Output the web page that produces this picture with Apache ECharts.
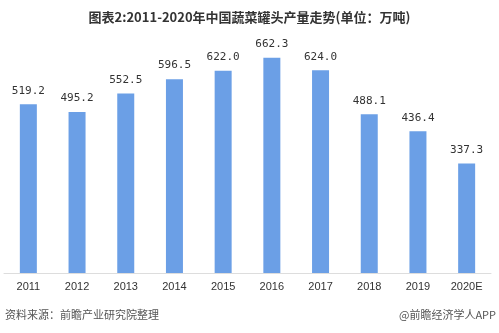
<!DOCTYPE html>
<html><head><meta charset="utf-8">
<script src="https://cdn.jsdelivr.net/npm/echarts@6/dist/echarts.min.js"></script>
<style>html,body{margin:0;padding:0;background:#fff}#c{width:499px;height:333px}</style>
</head><body><div id="c"></div>
<script>
const categories = ['2011','2012','2013','2014','2015','2016','2017','2018','2019','2020E'];
const values = [519.2,495.2,552.5,596.5,622.0,662.3,624.0,488.1,436.4,337.3];
const titleText = '图表2:2011-2020年中国蔬菜罐头产量走势(单位：万吨)';
const sourceText = '资料来源：前瞻产业研究院整理';
const brandText = '@前瞻经济学人APP';

const chart = echarts.init(document.getElementById('c'));
chart.setOption({
  backgroundColor:'#fff',
  animation:false,
  title:{text:titleText,left:'center',top:6,textStyle:{fontSize:13,fontWeight:'bold',color:'#333',fontFamily:'Noto Sans CJK SC'}},
  graphic:[
    {type:'text',left:5,top:309,style:{text:sourceText,fontSize:11,fill:'#555',fontFamily:'Noto Sans CJK SC'}},
    {type:'text',right:3,top:309,style:{text:brandText,fontSize:11,fill:'#555',fontFamily:'Noto Sans CJK SC'}}
  ],
  grid:{left:4,right:8,top:13,height:260,containLabel:false},
  xAxis:{type:'category',data:categories,
    axisLine:{lineStyle:{color:'#ddd'}},axisTick:{show:false},
    axisLabel:{color:'#333',fontSize:11,margin:8,fontFamily:'Liberation Sans'}},
  yAxis:{type:'value',min:0,max:800,show:false,splitLine:{show:false}},
  series:[{type:'bar',data:values,barWidth:17,itemStyle:{color:'#6b9fe6'},
    label:{show:true,position:'top',distance:8,color:'#333',fontSize:11,fontFamily:'DejaVu Sans Mono',
      formatter:p=>p.value.toFixed(1)}}]
});
</script></body></html>
